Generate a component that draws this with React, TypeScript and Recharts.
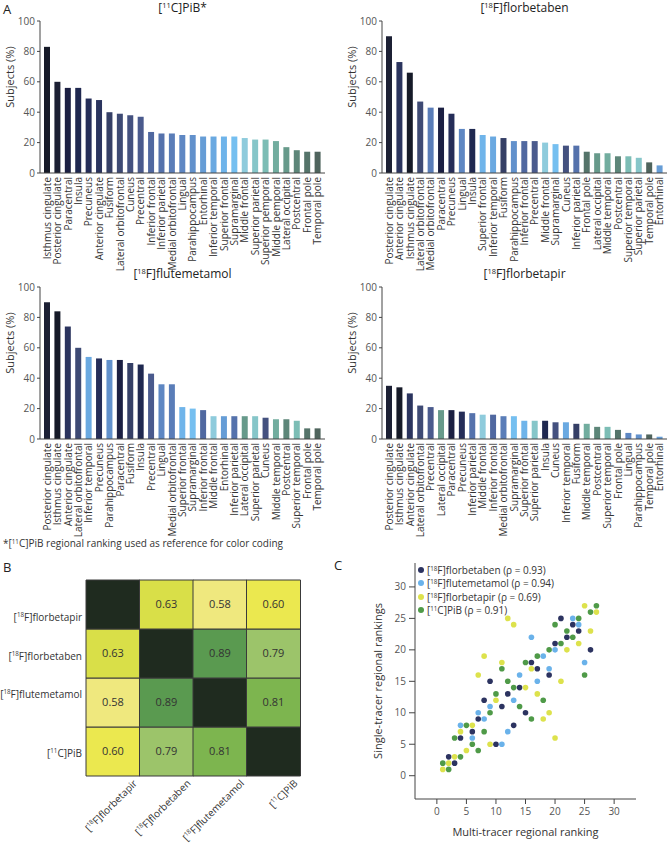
import React from "react";
import {
  BarChart,
  Bar,
  XAxis,
  YAxis,
  Cell,
  LabelList,
  ScatterChart,
  Scatter,
  Legend,
} from "recharts";

const FONT = "'Open Sans', sans-serif";

// PiB ranking is the colour reference for every panel
const pibRegions = [
  "Isthmus cingulate", "Posterior cingulate", "Paracentral", "Insula", "Precuneus",
  "Anterior cingulate", "Fusiform", "Lateral orbitofrontal", "Cuneus", "Precentral",
  "Inferior frontal", "Inferior parietal", "Medial orbitofrontal", "Lingual", "Parahippocampus",
  "Entorhinal", "Inferior temporal", "Superior frontal", "Supramarginal", "Middle frontal",
  "Superior parietal", "Superior temporal", "Middle temporal", "Lateral occipital", "Postcentral",
  "Frontal pole", "Temporal pole",
];
const pibLabels = pibRegions.map((r) =>
  r === "Superior temporal" ? "Superior pemporal" : r === "Middle temporal" ? "Middle pemporal" : r
);
const pibValues = [83, 60, 56, 56, 49, 48, 40, 39, 38, 37, 27, 26, 26, 25, 25, 24, 24, 24, 24, 23, 22, 22, 21, 17, 15, 14, 14];
const regionColors = [
  "#161a28", "#1c2034", "#1b1f42", "#1f2850", "#252d58",
  "#2b345e", "#353f66", "#3e4a74", "#44517f", "#4a5a8d",
  "#5068a0", "#5572ac", "#5a7db8", "#5e87c3", "#6291cc",
  "#669dd6", "#6aa9e1", "#6fb4ea", "#75bff0", "#8ecbdc",
  "#86c6c9", "#7cbdb5", "#72ad9f", "#679a8b", "#5d8679",
  "#55746a", "#4f645d",
];

const florbetabenRegions = [
  "Posterior cingulate", "Anterior cingulate", "Isthmus cingulate", "Lateral orbitofrontal", "Medial orbitofrontal",
  "Paracentral", "Precuneus", "Lingual", "Insula", "Superior frontal",
  "Inferior temporal", "Fusiform", "Parahippocampus", "Inferior frontal", "Precentral",
  "Middle frontal", "Supramarginal", "Cuneus", "Inferior parietal", "Frontal pole",
  "Lateral occipital", "Middle temporal", "Postcentral", "Superior temporal", "Superior parietal",
  "Temporal pole", "Entorhinal",
];
const florbetabenValues = [90, 73, 66, 47, 43, 43, 39, 29, 29, 25, 24, 23, 21, 21, 21, 20, 19, 18, 18, 14, 13, 13, 11, 11, 10, 7, 5];

const flutemetamolRegions = [
  "Posterior cingulate", "Isthmus cingulate", "Anterior cingulate", "Lateral orbitofrontal", "Inferior temporal",
  "Precuneus", "Parahippocampus", "Paracentral", "Fusiform", "Insula",
  "Precentral", "Lingual", "Medial orbitofrontal", "Superior frontal", "Supramarginal",
  "Inferior frontal", "Middle frontal", "Entorhinal", "Inferior parietal", "Lateral occipital",
  "Superior parietal", "Cuneus", "Middle temporal", "Postcentral", "Superior temporal",
  "Frontal pole", "Temporal pole",
];
const flutemetamolValues = [90, 84, 74, 60, 54, 53, 52, 52, 50, 49, 43, 36, 36, 21, 20, 19, 15, 15, 15, 15, 15, 14, 13, 13, 12, 7, 7];

const florbetapirRegions = [
  "Posterior cingulate", "Isthmus cingulate", "Anterior cingulate", "Lateral orbitofrontal", "Precentral",
  "Lateral occipital", "Paracentral", "Precuneus", "Inferior parietal", "Middle frontal",
  "Inferior frontal", "Medial orbitofrontal", "Supramarginal", "Superior frontal", "Superior parietal",
  "Insula", "Cuneus", "Inferior temporal", "Fusiform", "Middle temporal",
  "Postcentral", "Superior temporal", "Frontal pole", "Lingual", "Parahippocampus",
  "Temporal pole", "Entorhinal",
];
const florbetapirValues = [35, 34, 30, 22, 21, 19, 19, 18, 17, 16, 16, 15, 15, 12, 12, 12, 11, 11, 10, 10, 8, 8, 6, 4, 3, 3, 1.5];

// B: correlation matrix (rows top->bottom, cols left->right)
const heatTracers = ["[18F]florbetapir", "[18F]florbetaben", "[18F]flutemetamol", "[11C]PiB"];
const heatMatrix: (number | null)[][] = [
  [null, 0.63, 0.58, 0.6],
  [0.63, null, 0.89, 0.79],
  [0.58, 0.89, null, 0.81],
  [0.6, 0.79, 0.81, null],
];
const heatColors: Record<string, string> = {
  diag: "#1f2b1f",
  "0.58": "#efe87e",
  "0.60": "#ebe84f",
  "0.63": "#d9df48",
  "0.79": "#9cc46a",
  "0.81": "#7db54f",
  "0.89": "#5a9a50",
};

// C: [multi-tracer rank, single-tracer rank]
const florbetabenRanks: [number, number][] = [
  [2, 3], [3, 2], [4, 6], [6, 7], [7, 9], [8, 12], [9, 15], [10, 5], [11, 11], [12, 13], [13, 8],
  [14, 14], [15, 10], [16, 18], [17, 17], [19, 16], [20, 21], [21, 25], [22, 22], [23, 24], [24, 23], [26, 20],
];
const flutemetamolRanks: [number, number][] = [
  [4, 8], [6, 6], [7, 10], [8, 9], [9, 11], [11, 5], [12, 7], [13, 12], [14, 16],
  [16, 22], [17, 15], [18, 19], [19, 17], [20, 20], [23, 25], [24, 24], [25, 18],
];
const florbetapirRanks: [number, number][] = [
  [1, 1], [2, 2], [3, 3], [4, 7], [5, 4], [6, 8], [7, 16], [8, 19], [9, 5], [10, 12], [11, 18], [12, 25], [13, 24],
  [15, 14], [16, 17], [17, 13], [18, 9], [19, 10], [20, 6], [21, 15], [22, 20], [24, 21], [25, 27], [26, 23], [27, 26],
];
const pibRanks: [number, number][] = [
  [1, 2], [2, 1], [3, 6], [4, 3], [5, 8], [6, 5], [7, 4], [8, 7], [9, 10], [10, 13], [11, 17], [12, 15], [13, 14], [14, 11],
  [15, 18], [16, 9], [17, 19], [18, 12], [19, 20], [20, 24], [21, 21], [22, 23], [23, 22], [24, 25], [25, 16], [26, 26], [27, 27],
];
const scatterTracers = ["[18F]florbetaben", "[18F]flutemetamol", "[18F]florbetapir", "[11C]PiB"];
const scatterRho = ["0.93", "0.94", "0.69", "0.91"];
const scatterColors = ["#2c3360", "#6ab2ea", "#dde24c", "#4f9a48"];
const rankTicks = [0, 5, 10, 15, 20, 25, 30];

const splitTracer = (t: string) => {
  const m = /^\[(\d+)([A-Z])\](.*)$/.exec(t);
  return m ? { iso: m[1], el: m[2], rest: m[3] } : { iso: "", el: "", rest: t };
};

const SvgTracer = ({ name }: { name: string }) => {
  const p = splitTracer(name);
  return (
    <>
      [<tspan dy={-4} fontSize="0.62em">{p.iso}</tspan>
      <tspan dy={4}>{p.el}]{p.rest}</tspan>
    </>
  );
};

const HtmlTracer = ({ name }: { name: string }) => {
  const p = splitTracer(name);
  return (
    <>
      [<span style={{ fontSize: "0.62em", verticalAlign: "0.55em" }}>{p.iso}</span>
      {p.el}]{p.rest}
    </>
  );
};

const colorOf: Record<string, string> = {};
pibRegions.forEach((r, i) => (colorOf[r] = regionColors[i]));

const RegionTick = (props: any) => {
  const { x, y, payload } = props;
  return (
    <g transform={`translate(${x},${y})`}>
      <text transform="rotate(-90)" dy="0.35em" textAnchor="end" fontSize={10} fill="#333" fontFamily={FONT}>
        {payload.value}
      </text>
    </g>
  );
};

const RegionBars = ({ regions, labels, values, title, left, top }: any) => {
  const data = regions.map((r: string, i: number) => ({
    region: labels ? labels[i] : r,
    key: r,
    value: values[i],
  }));
  return (
    <div style={{ position: "absolute", left, top, width: 330, height: 273 }}>
      <div
        style={{
          position: "absolute", left: 40, width: 285, top: -3, textAlign: "center",
          fontSize: 12, lineHeight: "16px", color: "#222", fontFamily: FONT,
        }}
      >
        {title}
      </div>
      <BarChart width={330} height={273} data={data} margin={{ top: 21, right: 5, left: 0, bottom: 0 }} barSize={6}>
        <XAxis
          dataKey="region"
          interval={0}
          tick={<RegionTick />}
          tickLine={false}
          tickSize={0}
          tickMargin={4}
          height={100}
          padding={{ left: 2, right: 2 }}
          axisLine={{ stroke: "#444" }}
        />
        <YAxis
          domain={[0, 100]}
          ticks={[0, 20, 40, 60, 80, 100]}
          width={40}
          tickSize={3}
          tickMargin={2}
          axisLine={{ stroke: "#444" }}
          tickLine={{ stroke: "#444" }}
          tick={{ fontSize: 10, fill: "#555", fontFamily: FONT }}
          label={(p: any) => {
            const vb = p.viewBox;
            return (
              <text
                transform={`translate(${vb.x + 9},${vb.y + 56}) rotate(-90)`}
                textAnchor="middle"
                dominantBaseline="central"
                fontSize={11}
                fill="#333"
                fontFamily={FONT}
              >
                Subjects (%)
              </text>
            );
          }}
        />
        <Bar dataKey="value" isAnimationActive={false}>
          {data.map((d: any) => (
            <Cell key={d.key} fill={colorOf[d.key]} />
          ))}
        </Bar>
      </BarChart>
    </div>
  );
};

// heatmap columns as categories, rows stacked bottom (PiB) to top (florbetapir)
const heatData = heatTracers.map((c) => {
  const row: any = { col: c };
  heatTracers.forEach((r) => (row[r] = 1));
  return row;
});
const stackOrder = [...heatTracers].reverse();

const HeatRowTick = (props: any) => {
  const { x, y, payload } = props;
  const name = stackOrder[Math.floor(payload.value)];
  const nudge = [1.5, -8.5, 2.5, 13][Math.floor(payload.value)];
  return (
    <text x={x} y={y + nudge} dy="0.35em" textAnchor="end" fontSize={10} fill="#333" fontFamily={FONT}>
      <SvgTracer name={name} />
    </text>
  );
};

const HeatColTick = (props: any) => {
  const { x, y, payload } = props;
  return (
    <g transform={`translate(${x + 25},${y + 8})`}>
      <text transform="rotate(-45)" textAnchor="end" fontSize={10} fill="#333" fontFamily={FONT}>
        <SvgTracer name={payload.value} />
      </text>
    </g>
  );
};

const Heatmap = () => (
  <div style={{ position: "absolute", left: 0, top: 570 }}>
    <BarChart width={330} height={275} data={heatData} margin={{ top: 10, right: 30, left: 0, bottom: 4 }} barCategoryGap={0}>
      <XAxis dataKey="col" interval={0} tick={<HeatColTick />} tickLine={false} tickSize={0} tickMargin={0} axisLine={false} height={65} />
      <YAxis
        type="number"
        domain={[0, 4]}
        ticks={[0.5, 1.5, 2.5, 3.5]}
        width={86}
        tick={<HeatRowTick />}
        tickLine={false}
        tickSize={0}
        tickMargin={4}
        axisLine={false}
      />
      {stackOrder.map((rowName) => {
        const ri = heatTracers.indexOf(rowName);
        return (
          <Bar key={rowName} dataKey={rowName} stackId="m" isAnimationActive={false} stroke="#3a3a3a" strokeWidth={1}>
            {heatTracers.map((c, ci) => {
              const v = heatMatrix[ri][ci];
              return <Cell key={c} fill={v == null ? heatColors.diag : heatColors[v.toFixed(2)]} />;
            })}
            <LabelList
              dataKey={rowName}
              content={(p: any) => {
                const v = heatMatrix[ri][p.index];
                if (v == null) return null;
                return (
                  <text
                    x={p.x + p.width / 2}
                    y={p.y + p.height / 2}
                    dy="0.35em"
                    textAnchor="middle"
                    fontSize={11}
                    fill="#333"
                    fontFamily={FONT}
                  >
                    {v.toFixed(2)}
                  </text>
                );
              }}
            />
          </Bar>
        );
      })}
    </BarChart>
  </div>
);

const toPoints = (pairs: [number, number][]) => pairs.map(([x, y]) => ({ x, y }));
const rankSets = [florbetabenRanks, flutemetamolRanks, florbetapirRanks, pibRanks];

const RankLegend = () => (
  <div style={{ fontFamily: FONT, fontSize: 10, color: "#333", lineHeight: "12px" }}>
    {scatterTracers.map((t, i) => (
      <div key={t} style={{ display: "flex", alignItems: "center", whiteSpace: "nowrap" }}>
        <span
          style={{
            display: "inline-block", width: 6, height: 6, borderRadius: 3,
            background: scatterColors[i], marginRight: 3,
          }}
        />
        <span>
          <HtmlTracer name={t} /> (ρ = {scatterRho[i]})
        </span>
      </div>
    ))}
  </div>
);

const RankScatter = () => (
  <div style={{ position: "absolute", left: 330, top: 555 }}>
    <ScatterChart width={341} height={290} margin={{ top: 8, right: 35, bottom: 6, left: 50 }}>
      <XAxis
        type="number"
        dataKey="x"
        domain={[-3.7, 33.7]}
        allowDataOverflow
        ticks={rankTicks}
        height={40}
        tickSize={5}
        tickMargin={4}
        axisLine={{ stroke: "#444" }}
        tickLine={{ stroke: "#444" }}
        tick={{ fontSize: 10, fill: "#555", fontFamily: FONT }}
        label={(p: any) => {
          const vb = p.viewBox;
          return (
            <text x={vb.x + vb.width / 2} y={vb.y + 33} dy="0.35em" textAnchor="middle" fontSize={11} fill="#333" fontFamily={FONT}>
              Multi-tracer regional ranking
            </text>
          );
        }}
      />
      <YAxis
        type="number"
        dataKey="y"
        domain={[-3.7, 33.8]}
        allowDataOverflow
        ticks={rankTicks}
        width={35}
        tickSize={6}
        tickMargin={3}
        axisLine={{ stroke: "#444" }}
        tickLine={{ stroke: "#444" }}
        tick={{ fontSize: 10, fill: "#555", fontFamily: FONT }}
        label={(p: any) => {
          const vb = p.viewBox;
          return (
            <text
              transform={`translate(${vb.x - 3},${vb.y + vb.height / 2}) rotate(-90)`}
              textAnchor="middle"
              dominantBaseline="central"
              fontSize={11}
              fill="#333"
              fontFamily={FONT}
            >
              Single-tracer regional rankings
            </text>
          );
        }}
      />
      <Legend
        layout="vertical"
        align="center"
        verticalAlign="middle"
        wrapperStyle={{ left: 88, top: 8, width: 200 }}
        content={<RankLegend />}
      />
      {rankSets.map((set, i) => (
        <Scatter
          key={scatterTracers[i]}
          name={scatterTracers[i]}
          data={toPoints(set)}
          fill={scatterColors[i]}
          isAnimationActive={false}
          shape={(p: any) => <circle cx={p.cx} cy={p.cy} r={2.8} fill={scatterColors[i]} />}
        />
      ))}
    </ScatterChart>
  </div>
);

const letterStyle: React.CSSProperties = {
  position: "absolute", fontSize: 13, lineHeight: "16px", color: "#222", fontFamily: FONT,
};

export default function App() {
  return (
    <div style={{ position: "absolute", left: 0, top: 0, width: 671, height: 845, background: "#fff", fontFamily: FONT }}>
      <div style={{ ...letterStyle, left: 3, top: 1 }}>A</div>
      <RegionBars regions={pibRegions} labels={pibLabels} values={pibValues} title={<><HtmlTracer name="[11C]PiB" />*</>} left={0} top={0} />
      <RegionBars regions={florbetabenRegions} values={florbetabenValues} title={<HtmlTracer name="[18F]florbetaben" />} left={342} top={0} />
      <RegionBars regions={flutemetamolRegions} values={flutemetamolValues} title={<HtmlTracer name="[18F]flutemetamol" />} left={0} top={266} />
      <RegionBars regions={florbetapirRegions} values={florbetapirValues} title={<HtmlTracer name="[18F]florbetapir" />} left={342} top={266} />
      <div style={{ position: "absolute", left: 3, top: 535, fontSize: 10, lineHeight: "14px", color: "#333", fontFamily: FONT }}>
        *<HtmlTracer name="[11C]PiB" /> regional ranking used as reference for color coding
      </div>
      <div style={{ ...letterStyle, left: 3, top: 559 }}>B</div>
      <Heatmap />
      <div style={{ ...letterStyle, left: 334, top: 557 }}>C</div>
      <RankScatter />
    </div>
  );
}
